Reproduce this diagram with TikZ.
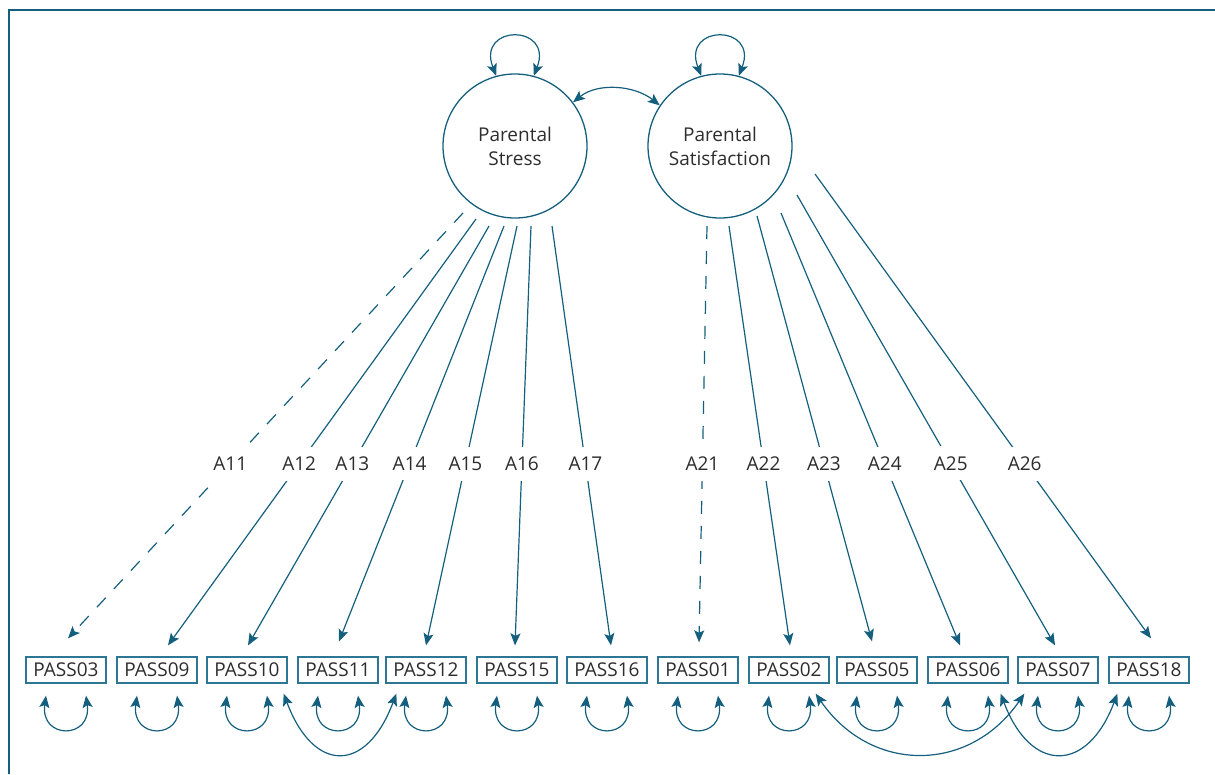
\documentclass[tikz,border=0pt]{standalone}
\usepackage{fontspec}
\setmainfont{Open Sans}
\usetikzlibrary{arrows.meta,calc}
\definecolor{semcol}{RGB}{20,95,125}
\definecolor{boxcol}{RGB}{45,118,148}
\definecolor{txtcol}{RGB}{45,45,45}
\newcommand\semfont{\fontsize{19}{24}\selectfont}
\begin{document}
\begin{tikzpicture}[x=1pt,y=-1pt,
  latent/.style={circle,draw=semcol,line width=1.3pt,minimum size=144pt,inner sep=0pt,align=center,font=\semfont,text=txtcol},
  obs/.style={draw=boxcol,line width=1.3pt,minimum width=80pt,minimum height=26pt,inner sep=0pt,font=\semfont,text=txtcol},
  tip/.tip={Stealth[length=12pt,width=10pt,inset=2.5pt]},
  load/.style={draw=semcol,line width=1.2pt,-tip},
  fixedload/.style={load,dash pattern=on 13pt off 12pt},
  lab/.style={fill=white,inner xsep=3pt,inner ysep=10pt,font=\semfont,text=txtcol},
  cov/.style={draw=semcol,line width=1.2pt,tip-tip}]
\useasboundingbox (0,0) rectangle (1215,774);
% frame
\coordinate (fr1) at (1215,10);
\coordinate (fr2) at (9,10);
\coordinate (fr3) at (9,774);
\draw[semcol,line width=2pt] (fr1) -- (fr2) -- (fr3);
% latent variables
\node[latent] (ps) at (515,146) {Parental\\Stress};
\node[latent] (pss) at (720,146) {Parental\\Satisfaction};
% observed variables
\foreach \n/\x in {03/66,09/157,10/247,11/338,12/426,15/517,16/607,01/698,02/789,05/877,06/968,07/1058,18/1149}
  \node[obs] (b\n) at (\x,670) {PASS\n};
% start points of loadings
\coordinate (s11) at (463,213);
\coordinate (s12) at (476,219);
\coordinate (s13) at (489,226);
\coordinate (s14) at (504,226);
\coordinate (s15) at (517,226);
\coordinate (s16) at (531,226);
\coordinate (s17) at (552,226);
\coordinate (s21) at (707,226);
\coordinate (s22) at (729,226);
\coordinate (s23) at (757,216);
\coordinate (s24) at (781,213);
\coordinate (s25) at (797,195);
\coordinate (s26) at (815,174);
% loadings
\draw[fixedload] (s11) -- node[lab,pos=0.589]{A11} ($(b03.north)+(2,-18)$);
\draw[load] (s12) -- node[lab,pos=0.574]{A12} ($(b09.north)+(11,-11)$);
\draw[load] (s13) -- node[lab,pos=0.567]{A13} ($(b10.north)+(1,-11)$);
\draw[load] (s14) -- node[lab,pos=0.572]{A14} ($(b11.north)+(1,-15)$);
\draw[load] (s15) -- node[lab,pos=0.567]{A15} ($(b12.north)+(0,-11)$);
\draw[load] (s16) -- node[lab,pos=0.567]{A16} ($(b15.north)+(-2,-11)$);
\draw[load] (s17) -- node[lab,pos=0.567]{A17} ($(b16.north)+(4,-11)$);
\draw[fixedload] (s21) -- node[lab,pos=0.571]{A21} ($(b01.north)+(1,-14)$);
\draw[load] (s22) -- node[lab,pos=0.567]{A22} ($(b02.north)+(1,-11)$);
\draw[load] (s23) -- node[lab,pos=0.582]{A23} ($(b05.north)+(-5,-15)$);
\draw[load] (s24) -- node[lab,pos=0.580]{A24} ($(b06.north)+(-8,-11)$);
\draw[load] (s25) -- node[lab,pos=0.596]{A25} ($(b07.north)+(-3,-11)$);
\draw[load] (s26) -- node[lab,pos=0.624]{A26} ($(b18.north)+(2,-18)$);
% latent variances and covariance
\draw[cov] (ps.105) .. controls +(-20,-52) and +(20,-52) .. (ps.75);
\draw[cov] (pss.105) .. controls +(-20,-52) and +(20,-52) .. (pss.75);
\draw[cov] (ps.37) .. controls +(25,-20) and +(-25,-20) .. (pss.146);
% residual variances
\foreach \n in {03,09,10,11,12,15,16,01,02,05,06,07,18}
  \draw[cov] ($(b\n.south)+(-20,12)$) .. controls +(-6,44) and +(6,44) .. ($(b\n.south)+(20,12)$);
% residual covariances
\draw[cov] ($(b10.south east)+(-4,10)$) .. controls +(30,80) and +(-30,80) .. ($(b12.south west)+(11,10)$);
\draw[cov] ($(b02.south east)+(-14,10)$) .. controls +(55,80) and +(-55,80) .. ($(b07.south west)+(7,10)$);
\draw[cov] ($(b06.south east)+(-8,10)$) .. controls +(30,80) and +(-30,80) .. ($(b18.south west)+(9,10)$);
\end{tikzpicture}
\end{document}
